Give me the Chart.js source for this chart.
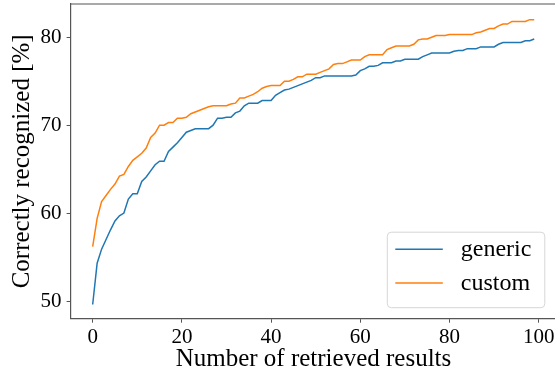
<!doctype html>
<html>
  <head>
    <title>Correctly recognized vs. number of retrieved results</title>
    <meta charset="UTF-8">
    <script src="https://cdn.jsdelivr.net/npm/chart.js"></script>
    <style>
      html, body { margin: 0; padding: 0; background: #fff; overflow: hidden; }
      #wrap { width: 555px; height: 376px; overflow: hidden; }
    </style>
  </head>
  <body>
    <div id="wrap">
      <canvas id="recognized" width="560" height="376"></canvas>
    </div>
    <script>
      const seriesLabels = ['generic', 'custom'];

      const generic = [
        49.6, 54.3, 55.9, 57.0, 58.1, 59.1, 59.7, 60.0, 61.6, 62.2,
        62.2, 63.6, 64.1, 64.8, 65.5, 65.9, 65.9, 67.0, 67.5, 68.0,
        68.6, 69.2, 69.4, 69.6, 69.6, 69.6, 69.6, 70.0, 70.8, 70.8,
        70.9, 70.9, 71.4, 71.6, 72.2, 72.5, 72.5, 72.5, 72.8, 72.8,
        72.8, 73.4, 73.7, 74.0, 74.1, 74.3, 74.5, 74.7, 74.9, 75.1,
        75.4, 75.4, 75.6, 75.6, 75.6, 75.6, 75.6, 75.6, 75.6, 75.7,
        76.2, 76.4, 76.7, 76.7, 76.8, 77.1, 77.1, 77.1, 77.3, 77.3,
        77.5, 77.5, 77.5, 77.5, 77.8, 78.0, 78.2, 78.2, 78.2, 78.2,
        78.2, 78.4, 78.5, 78.5, 78.7, 78.7, 78.7, 78.9, 78.9, 78.9,
        78.9, 79.2, 79.4, 79.4, 79.4, 79.4, 79.4, 79.6, 79.6, 79.8
      ];

      const custom = [
        56.2, 59.4, 61.3, 62.0, 62.7, 63.3, 64.2, 64.4, 65.3, 66.0,
        66.4, 66.8, 67.4, 68.6, 69.1, 70.0, 70.0, 70.3, 70.3, 70.8,
        70.8, 70.9, 71.3, 71.5, 71.7, 71.9, 72.1, 72.2, 72.2, 72.2,
        72.2, 72.4, 72.5, 73.1, 73.1, 73.3, 73.5, 73.8, 74.2, 74.4,
        74.5, 74.5, 74.5, 75.0, 75.0, 75.2, 75.5, 75.5, 75.8, 75.8,
        75.8, 76.0, 76.2, 76.4, 76.9, 77.0, 77.0, 77.2, 77.4, 77.4,
        77.4, 77.8, 78.0, 78.0, 78.0, 78.0, 78.6, 78.8, 79.0, 79.0,
        79.0, 79.0, 79.2, 79.7, 79.8, 79.8, 80.0, 80.2, 80.2, 80.2,
        80.3, 80.3, 80.3, 80.3, 80.3, 80.3, 80.5, 80.6, 80.8, 81.0,
        81.0, 81.3, 81.5, 81.5, 81.8, 81.8, 81.8, 81.8, 82.0, 82.0
      ];

      const xTicks = [0, 20, 40, 60, 80, 100];
      const yTicks = [50, 60, 70, 80];

      const serif = '"Liberation Serif", "DejaVu Serif", serif';
      const ink = '#000';
      const spine = '#555';

      function points(values) {
        return values.map((y, x) => ({ x, y }));
      }

      // matplotlib-style legend box in the lower right corner of the axes
      const cornerLegend = {
        id: 'cornerLegend',
        afterDraw(chart) {
          const { ctx, chartArea } = chart;
          const right = chartArea.right - 12;
          const bottom = chartArea.bottom - 11.5;
          const w = 157.5, h = 75.5;
          const left = right - w, top = bottom - h;

          ctx.save();
          ctx.beginPath();
          ctx.roundRect(left + 0.5, top + 0.5, w, h, 4);
          ctx.fillStyle = 'rgba(255,255,255,0.8)';
          ctx.fill();
          ctx.strokeStyle = '#d6d6d6';
          ctx.lineWidth = 1;
          ctx.stroke();

          ctx.font = '24px ' + serif;
          ctx.textBaseline = 'middle';
          chart.data.datasets.forEach((ds, i) => {
            const y = top + 17.5 + i * 33.7;
            ctx.beginPath();
            ctx.moveTo(left + 8.5, y);
            ctx.lineTo(left + 56, y);
            ctx.strokeStyle = ds.borderColor;
            ctx.lineWidth = 1.5;
            ctx.stroke();
            ctx.fillStyle = ink;
            ctx.fillText(ds.label, left + 74, y + 1);
          });
          ctx.restore();
        }
      };

      // top spine (the right one falls just outside the visible frame)
      const topSpine = {
        id: 'topSpine',
        afterDraw(chart) {
          const { ctx, chartArea } = chart;
          ctx.save();
          ctx.beginPath();
          ctx.moveTo(chartArea.left, chartArea.top);
          ctx.lineTo(chartArea.right, chartArea.top);
          ctx.strokeStyle = spine;
          ctx.lineWidth = 1.2;
          ctx.stroke();
          ctx.restore();
        }
      };

      new Chart(document.getElementById('recognized'), {
        type: 'line',
        data: {
          datasets: [
            {
              label: seriesLabels[0],
              data: points(generic),
              borderColor: '#1f77b4',
              borderWidth: 1.5,
              pointRadius: 0,
              tension: 0
            },
            {
              label: seriesLabels[1],
              data: points(custom),
              borderColor: '#ff7f0e',
              borderWidth: 1.5,
              pointRadius: 0,
              tension: 0
            }
          ]
        },
        options: {
          responsive: false,
          animation: false,
          devicePixelRatio: 1,
          layout: { padding: { top: 4, right: 3.7, left: 0, bottom: 0 } },
          plugins: {
            legend: { display: false },
            tooltip: { enabled: false }
          },
          scales: {
            x: {
              type: 'linear',
              min: -4.95,
              max: 103.95,
              afterBuildTicks: scale => { scale.ticks = xTicks.map(value => ({ value })); },
              afterFit: scale => {
                scale.height = 57.3;
                scale.paddingLeft = 0;
                scale.paddingRight = 0;
              },
              border: { color: spine, width: 1.2 },
              grid: { drawOnChartArea: false, drawTicks: true, tickLength: 4, color: spine },
              ticks: { color: ink, padding: 2, maxRotation: 0, font: { family: serif, size: 21 } },
              title: {
                display: true,
                text: 'Number of retrieved results',
                color: ink,
                padding: { top: 0, bottom: 2 },
                font: { family: serif, size: 25 }
              }
            },
            y: {
              min: 47.99,
              max: 83.78,
              afterBuildTicks: scale => { scale.ticks = yTicks.map(value => ({ value })); },
              afterFit: scale => {
                scale.width = 70.6;
                scale.paddingTop = 0;
                scale.paddingBottom = 0;
              },
              border: { color: spine, width: 1.2 },
              grid: { drawOnChartArea: false, drawTicks: true, tickLength: 4, color: spine },
              ticks: { color: ink, padding: 5, font: { family: serif, size: 21 } },
              title: {
                display: true,
                text: 'Correctly recognized [%]',
                color: ink,
                padding: { top: 7, bottom: 0 },
                font: { family: serif, size: 25 }
              }
            }
          }
        },
        plugins: [cornerLegend, topSpine]
      });
    </script>
  </body>
</html>
